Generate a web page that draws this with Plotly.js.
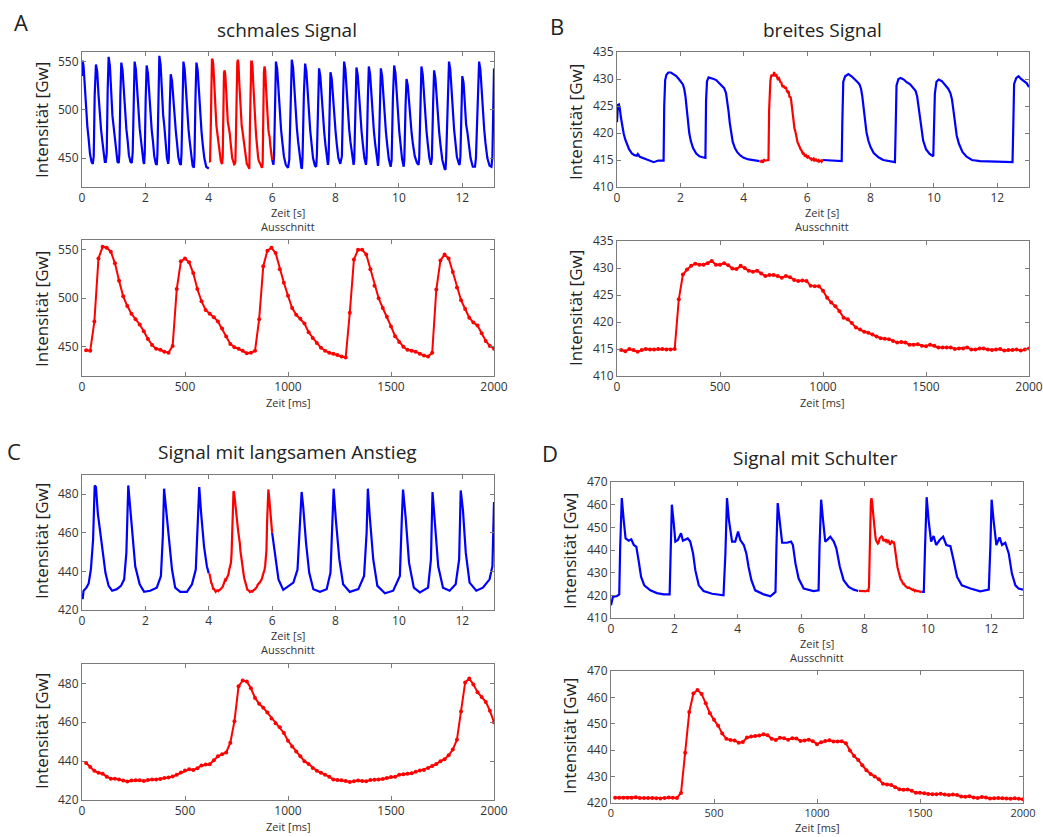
<!DOCTYPE html>
<html><head><meta charset="utf-8">
<script src="https://cdn.plot.ly/plotly-3.0.1.min.js"></script>
<style>html,body{margin:0;padding:0;background:#fff}#chart{width:1043px;height:837px}</style>
</head><body><div id="chart"></div>
<script>
// ---------- DATA ----------
// Detail ("Ausschnitt") sample times in ms (20 ms sampling)
const detailMs = Array.from({length:100}, (_, i) => 20 * (i + 1));

// Start of the cut-out window within the full recording (s)
const cutStartA = 4.0, cutStartB = 4.5, cutStartC = 4.0, cutStartD = 7.8;

// A: schmales Signal
const A_detail = [446.6,446,476,541,553,552,548,536,518,502,
 492,484,478.5,473,466,458,452,448,447,445,
 444,451,509.5,538,541,537,526,509.5,497,488,
 484,480.6,476,469,460.7,453,449.7,448,446,443.5,
 444,446,478.5,533,549,552,546.5,530,516,502.6,
 490,483,479,474,465,459,454,449,446,444,
 443,441.5,440,439,485,540,550,550,545,530,
 513,500,490,481,471,461,455,450,447,446,
 445,443,441,440,444,509,539,545,541,527,
 511,498,489,480,475,472,464,456,451,448];
const A_t1 = [0,0.02,0.05,0.09,0.13,0.17,0.21,0.25,0.30,0.34,0.37,0.40,0.44,0.48,0.52,0.56,0.60,0.64,0.68,0.72,
 0.75,0.78,0.81,0.84,0.88,0.92,0.96,1.00,1.04,1.08,1.12,1.16,1.18,1.21,1.24,1.28,1.32,1.36,1.40,1.44,
 1.48,1.53,1.57,1.60,1.63,1.66,1.70,1.74,1.78,1.82,1.86,1.90,1.94,1.96,1.98,2.01,2.04,2.08,2.12,2.16,
 2.20,2.24,2.28,2.33,2.36,2.38,2.41,2.44,2.48,2.52,2.56,2.60,2.64,2.68,2.72,2.74,2.77,2.80,2.84,2.88,
 2.92,2.96,3.00,3.04,3.09,3.12,3.14,3.17,3.20,3.24,3.28,3.32,3.36,3.40,3.44,3.49,3.53,3.55,3.58,3.61,
 3.65,3.69,3.73,3.77,3.81,3.86,3.92,4.00];
const A_v1 = [535,551,545,520,496,482,470,455,446,444,452,515,547,540,516,492,480,468,453,446,
 446,455,520,555,546,518,494,482,470,454,446,445,455,515,549,541,516,492,480,468,
 453,446,445,456,516,550,542,517,493,481,469,453,446,444,455,512,546,538,514,491,
 479,467,452,444,443,455,518,556,547,520,495,482,466,450,444,450,505,537,530,510,
 490,478,465,451,444,443,455,515,550,542,517,492,480,467,452,442,440,452,512,549,
 541,515,490,478,464,450,441,439];
const A_t2 = [6.00,6.04,6.06,6.09,6.12,6.16,6.20,6.24,6.28,6.32,6.37,6.43,6.50,6.54,6.58,6.62,6.66,6.70,6.74,6.78,
 6.82,6.87,6.92,6.94,6.96,7.00,7.04,7.08,7.12,7.16,7.20,7.24,7.29,7.35,7.39,7.41,7.45,7.48,7.52,7.56,
 7.60,7.64,7.68,7.73,7.76,7.78,7.81,7.84,7.88,7.92,7.96,8.00,8.04,8.09,8.15,8.20,8.24,8.27,8.31,8.35,
 8.39,8.43,8.47,8.52,8.57,8.59,8.63,8.66,8.70,8.74,8.78,8.82,8.86,8.91,8.96,8.98,9.02,9.05,9.09,9.13,
 9.17,9.21,9.25,9.30,9.34,9.36,9.40,9.43,9.47,9.51,9.55,9.59,9.63,9.68,9.74,9.77,9.81,9.85,9.89,9.93,
 9.97,10.01,10.05,10.10,10.15,10.17,10.21,10.24,10.28,10.32,10.36,10.40,10.44,10.50,10.57,10.62,10.64,10.68,10.71,10.75,
 10.79,10.83,10.87,10.91,10.96,11.01,11.04,11.08,11.11,11.15,11.19,11.23,11.27,11.31,11.37,11.44,11.47,11.49,11.54,11.58,
 11.62,11.66,11.70,11.74,11.78,11.83,11.90,11.92,11.94,11.97,12.00,12.04,12.08,12.12,12.16,12.20,12.26,12.33,12.40,12.43,
 12.49,12.53,12.57,12.61,12.65,12.69,12.73,12.79,12.86,12.92,12.95,13.00];
const A_v2 = [448,443,452,515,550,542,517,492,480,467,452,443,440,448,512,552,544,518,493,481,
 467,450,440,439,452,515,548,540,515,490,479,466,450,442,441,452,512,543,535,512,
 489,478,464,448,443,448,505,539,532,510,488,478,464,450,444,452,515,550,542,517,
 492,480,467,452,443,448,510,544,536,513,490,478,465,450,443,450,512,545,537,513,
 490,478,465,450,442,450,510,543,535,512,489,477,464,449,441,448,512,546,538,514,
 490,478,465,449,441,448,505,532,525,505,487,476,465,452,445,443,450,512,545,537,
 513,490,478,465,450,443,450,508,541,533,511,488,477,464,448,439,438,450,515,550,
 542,517,492,480,467,451,443,444,452,505,535,528,507,485,477,466,450,441,441,450,
 515,550,542,517,492,480,466,450,442,441,452,543];

// B: breites Signal
const B_detail = [414.8,414.6,415.0,414.8,414.5,414.8,415.0,414.9,414.9,415.0,415.0,414.9,414.9,415.0,
 424.2,428.8,429.7,430.4,430.8,430.6,430.6,430.9,431.3,430.6,430.6,430.9,430.5,429.9,429.8,430.4,
 430.0,429.5,429.3,429.5,429.0,428.5,428.7,428.7,428.5,428.2,428.5,428.3,427.8,427.6,427.7,427.6,426.7,426.6,426.6,425.8,
 424.5,423.6,422.9,422.0,420.8,420.5,419.8,419.0,418.6,418.2,418.0,417.7,417.3,417.0,416.9,416.8,416.5,416.2,416.3,416.2,
 415.8,415.8,415.9,415.6,415.5,415.8,415.6,415.3,415.3,415.3,415.3,415.0,415.1,415.1,415.3,414.9,414.9,415.1,415.1,414.9,
 414.8,414.9,415.0,414.7,414.8,414.8,414.9,414.7,414.9,415.1];
const B_t1 = [0,0.03,0.06,0.09,0.12,0.16,0.21,0.26,0.31,0.38,0.47,0.55,0.63,0.66,0.72,0.85,0.95,1.05,1.16,1.30,1.47,
 1.49,1.52,1.56,1.62,1.70,1.78,1.86,1.95,2.02,2.08,2.12,2.16,2.20,2.24,2.28,2.33,2.40,2.50,2.60,2.70,2.79,
 2.81,2.84,2.89,2.97,3.05,3.13,3.22,3.31,3.38,3.44,3.48,3.52,3.56,3.60,3.65,3.72,3.80,3.90,4.00,4.15,4.31,4.50];
const B_v1 = [422,425.2,425.3,424.5,423,421.2,419.9,418.8,418,417,416.2,415.9,415.8,416.1,415.6,415.3,415.0,414.9,414.6,414.9,414.9,
 425,429.8,430.8,431.2,431.2,430.9,430.6,430.0,429.5,429.0,428.2,426.8,424.5,422.0,420.0,418.5,417.2,416.2,415.7,415.5,415.4,
 426,429.6,430.3,430.2,430.0,429.8,429.3,428.8,428.3,427.4,426.0,424.0,421.8,420.0,418.4,417.2,416.4,415.8,415.4,415.1,415.0,414.8];
const B_t2 = [6.50,6.80,7.09,
 7.11,7.14,7.20,7.30,7.40,7.50,7.58,7.65,7.70,7.74,7.78,7.82,7.87,7.93,8.00,8.10,8.25,8.40,8.60,8.77,
 8.79,8.82,8.88,8.95,9.05,9.14,9.25,9.35,9.42,9.47,9.51,9.55,9.60,9.66,9.75,9.87,9.98,
 10.00,10.03,10.08,10.15,10.25,10.35,10.45,10.52,10.57,10.62,10.66,10.72,10.79,10.90,11.03,11.20,11.45,11.80,12.08,12.48,
 12.50,12.53,12.60,12.67,12.75,12.85,12.93,13.0];
const B_v2 = [415.0,414.9,414.8,
 422,429.5,430.5,430.9,430.5,430.0,429.5,429.0,428.2,426.8,424.5,422.3,420.2,418.6,417.4,416.3,415.5,415.0,414.8,414.6,
 420,428.8,430.0,430.2,429.9,429.4,429.0,428.4,427.8,426.8,425.0,422.8,420.5,418.6,417.0,416.1,415.7,
 420,427.3,429.5,429.9,429.6,428.8,428.2,427.4,426.2,424.0,421.7,419.5,418.0,416.5,415.6,415.0,414.8,414.7,414.6,414.6,
 420,429.1,430.2,430.5,430.0,429.6,429.2,428.5];

// C: Signal mit langsamen Anstieg
const C_detail = [439,437,435,434,433.5,432,431,431,430.5,430,
 429.5,430,430.2,430.2,429.8,430.3,430.5,430.5,430.8,431.3,
 431.6,432.1,433,434.2,435.2,435.8,435.5,436.3,437.8,438.3,
 438.4,440.5,442.5,443.5,444.5,449.5,460.5,478.5,481.5,481,
 477.5,472.5,469.5,467.5,465,462,459.5,457.5,454.5,450.5,
 447.5,445,442.5,440,438.5,436.5,435,434,433,432,
 430.5,430.3,430.2,429.8,429.3,429.6,430,429.8,429.6,430.3,
 430.4,430.5,430.8,431.3,431.8,432,433,433.3,433.5,433.8,
 434.5,435.2,435.5,436.5,437.5,438.5,440,441,443,446,
 451,465.5,480.5,482.5,479.5,475.5,473,470.5,466,460];
const C_t1 = [0.00,0.02,0.05,0.14,0.21,0.28,0.35,0.40,0.44,0.50,0.58,0.65,0.74,0.84,0.95,1.10,1.23,1.33,1.40,1.46,
 1.52,1.59,1.68,1.82,1.96,2.15,2.36,2.49,2.55,2.59,2.66,2.73,2.84,2.94,3.10,3.31,3.47,3.59,3.65,3.70,3.76,3.85,3.94,4.00];
const C_v1 = [428,425.6,430,431.6,433.8,441,456.4,484.6,483.8,470,459.8,449.6,439.3,432.5,430,430.8,432.5,435.9,449.6,484.6,
 473.5,459.8,442.7,433.3,429.4,430,431.6,437.6,458.1,482.9,471.8,458.1,441,431.6,429.4,429.4,433.3,441,463.2,483.8,470,453,442.7,439];
const C_t2 = [6.00,6.09,6.20,6.35,6.51,6.67,6.80,6.88,6.93,6.98,7.07,7.17,7.30,7.51,7.72,7.84,7.90,7.94,8.01,8.12,
 8.24,8.45,8.72,8.90,8.98,9.02,9.08,9.19,9.32,9.56,9.82,10.03,10.09,10.13,10.21,10.32,10.47,10.66,10.92,11.01,
 11.06,11.13,11.24,11.39,11.60,11.79,11.90,11.95,12.02,12.11,12.23,12.44,12.65,12.86,12.95,13.00];
const C_v2 = [460,447.9,435.9,430.4,432.5,434.2,441,463.2,481.2,473.5,454.7,439.3,430.8,429.4,430.8,439.3,463.2,482.9,466.7,446.2,
 433.3,429.4,430.8,437.6,459.8,482.9,468.4,446.2,432.5,428.7,430,437.6,466.7,482.4,468.4,444.4,431.6,429.1,431.6,446.2,
 481.2,466.7,442.7,431.6,430,433.3,446.2,482,471.8,449.6,434.2,430,431.6,435.9,442.7,476];

// D: Signal mit Schulter
const D_detail = [422.0,422.0,422.0,422.0,422.0,422.2,421.9,421.9,421.9,421.9,
 421.8,421.7,421.9,422.1,422.0,421.9,423.8,439,454.5,461.5,
 462.8,461.3,457.8,454,451.5,449.3,446.3,444.3,443.9,443.7,
 442.8,443.1,444.8,445.2,445.4,445.6,446.0,445.7,444.3,443.9,
 444.7,444.5,444.0,444.5,444.4,443.5,443.7,444.0,443.4,442.3,
 443.0,443.5,443.8,443.3,443.3,443.4,442.6,439.9,437.8,436.3,
 434.3,432.4,431.0,430.0,429.0,427.3,427.0,426.8,426.0,425.2,
 425.0,425.1,424.6,423.9,423.9,423.7,423.4,423.3,423.3,423.5,
 423.2,423.0,423.2,423.0,422.5,422.4,422.6,422.1,421.9,422.3,
 422.1,421.7,421.8,421.9,421.8,421.7,421.6,421.8,421.6,421.4];
const D_t1 = [0.00,0.02,0.06,0.19,0.26,0.29,0.34,0.40,0.46,0.56,0.64,0.72,0.80,0.87,0.95,1.05,1.24,1.45,1.66,1.85,
 1.88,1.92,1.98,2.03,2.11,2.21,2.27,2.35,2.42,2.50,2.59,2.66,2.77,2.92,3.19,3.55,3.61,3.66,3.72,3.82,
 3.92,4.01,4.08,4.19,4.27,4.34,4.43,4.55,4.82,5.03,5.19,5.22,5.26,5.32,5.40,5.55,5.68,5.74,5.82,5.92,
 6.08,6.39,6.55,6.58,6.63,6.69,6.76,6.84,6.92,7.03,7.11,7.22,7.34,7.50,7.66,7.80];
const D_v1 = [415.6,416.5,419.3,419.7,420.4,441.4,462.9,453.3,445.1,444.1,444.7,442.2,441.4,435.5,428.1,424.4,422.2,421,420.4,420.4,
 438.5,460,451.8,443.7,444.4,447.4,444.1,444.7,445.1,443.7,438.5,431.1,424.4,421.9,420.7,420,438.5,462.9,453.3,443.7,
 443.7,448.1,444.4,442.2,438.5,432.6,426.7,422.2,420.4,419.6,421.5,441.4,460.7,453.3,443.2,443.2,443.7,442.2,434.1,427.4,
 423,421.9,422.2,441.4,462.2,453.3,443.7,444.7,445.9,443.7,440.7,432.6,426.7,423.7,422.5,421.9];
const D_t2 = [9.80,9.87,9.91,9.96,10.02,10.10,10.18,10.26,10.37,10.48,10.58,10.71,10.81,10.92,11.07,11.34,11.65,11.92,11.97,12.01,
 12.07,12.16,12.26,12.34,12.44,12.55,12.65,12.76,12.86,13.00];
const D_v2 = [421.5,421.5,441.4,463.3,453.3,443.7,446.2,442.2,444.4,445.9,442.2,441.7,435.5,428.1,424.4,423,421.8,422.5,441.4,462.2,
 453.3,442.2,445.6,442.2,443.2,438.5,429.6,424.4,423,422.5];

// Tick labels
const secTicks = [0,2,4,6,8,10,12];
const msTicks = [0,500,1000,1500,2000];

// ---------- LAYOUT ----------
const W = 1043, H = 837;
const FONT = 'Open Sans, Noto Sans, sans-serif';
const BLUE = '#0000ff', RED = '#ff0000';

const panels = [
  {box:[82,494,52,187],  xr:[0,13],   yr:[420,560], xt:secTicks, yt:[450,500,550]},
  {box:[82,494,240,376], xr:[0,2000], yr:[420,560], xt:msTicks,  yt:[450,500,550]},
  {box:[617,1029,52,187],  xr:[0,13],   yr:[410,435], xt:secTicks, yt:[410,415,420,425,430,435]},
  {box:[617,1029,241,376], xr:[0,2000], yr:[410,435], xt:msTicks,  yt:[410,415,420,425,430,435]},
  {box:[82,494,475,610], xr:[0,13],   yr:[420,490], xt:secTicks, yt:[420,440,460,480]},
  {box:[82,494,664,800], xr:[0,2000], yr:[420,490], xt:msTicks,  yt:[420,440,460,480]},
  {box:[611,1023,482,618], xr:[0,13],   yr:[410,470], xt:secTicks, yt:[410,420,430,440,450,460,470]},
  {box:[611,1023,671,803], xr:[0,2000], yr:[420,470], xt:msTicks,  yt:[420,430,440,450,460,470], xfs:11}
];

const layout = {
  width: W, height: H, margin:{l:0,r:0,t:0,b:0},
  paper_bgcolor:'#ffffff', plot_bgcolor:'#ffffff',
  showlegend:false, font:{family:FONT, color:'#222'},
  annotations: []
};

panels.forEach((p, i) => {
  const n = i === 0 ? '' : String(i + 1);
  const [x0, x1, y0, y1] = p.box;
  const common = {
    ticks:'inside', ticklen:4, tickcolor:'#7a7a7a', tickwidth:1,
    showline:true, linecolor:'#7a7a7a', linewidth:1, mirror:'ticks',
    showgrid:false, zeroline:false, fixedrange:true,
    tickfont:{family:FONT, size:12, color:'#333'}
  };
  layout['xaxis' + n] = Object.assign({}, common, {
    domain:[x0 / W, x1 / W], range:p.xr, tickvals:p.xt, anchor:'y' + n,
    tickfont:{family:FONT, size:p.xfs || 12, color:'#333'}
  });
  layout['yaxis' + n] = Object.assign({}, common, {
    domain:[1 - y1 / H, 1 - y0 / H], range:p.yr, tickvals:p.yt, anchor:'x' + n
  });
});

function txt(text, x, y, size, opts) {
  layout.annotations.push(Object.assign({
    text, x: x / W, y: 1 - y / H, xref:'paper', yref:'paper',
    xanchor:'center', yanchor:'middle', showarrow:false,
    font:{family:FONT, size, color:'#222'}
  }, opts || {}));
}
// Titles and panel letters
txt('schmales Signal', 287, 30, 19);
txt('breites Signal', 822, 30, 19);
txt('Signal mit langsamen Anstieg', 287, 452, 19);
txt('Signal mit Schulter', 815, 458, 19);
txt('A', 21, 22, 22);
txt('B', 557, 26, 22);
txt('C', 14, 451, 22);
txt('D', 550, 453, 22);
// x-axis labels
const small = {font:{family:FONT, size:11, color:'#333'}};
[[288,212,226,402],[822,212,226,402],[288,635,649,826]].forEach(([cx, ys, ya, yms]) => {
  txt('Zeit [s]', cx, ys, 11, small);
  txt('Ausschnitt', cx, ya, 11, small);
  txt('Zeit [ms]', cx, yms, 11, small);
});
txt('Zeit [s]', 817, 643, 11, small);
txt('Ausschnitt', 817, 657, 11, small);
txt('Zeit [ms]', 817, 837, 11, Object.assign({yanchor:'bottom'}, small));
// y-axis labels
[[41,120],[41,309],[575,122],[575,308],[41,541],[41,731],[569,551],[569,736]].forEach(([x, y]) => {
  txt('Intensität [Gw]', x, y, 17, {textangle:-90});
});

// ---------- TRACES ----------
const traces = [];
function ov(n, t, v, color) {
  traces.push({x:t, y:v, type:'scatter', mode:'lines', line:{color, width:2.2},
    xaxis:'x' + n, yaxis:'y' + n, hoverinfo:'skip'});
}
function det(n, v) {
  traces.push({x:detailMs, y:v, type:'scatter', mode:'lines+markers',
    line:{color:RED, width:2}, marker:{color:RED, size:4},
    xaxis:'x' + n, yaxis:'y' + n, hoverinfo:'skip'});
}
const toSec = (start) => detailMs.map(ms => start + ms / 1000);

ov('', A_t1, A_v1, BLUE); ov('', A_t2, A_v2, BLUE); ov('', toSec(cutStartA), A_detail, RED); det('2', A_detail);
ov('3', B_t1, B_v1, BLUE); ov('3', B_t2, B_v2, BLUE); ov('3', toSec(cutStartB), B_detail, RED); det('4', B_detail);
ov('5', C_t1, C_v1, BLUE); ov('5', C_t2, C_v2, BLUE); ov('5', toSec(cutStartC), C_detail, RED); det('6', C_detail);
ov('7', D_t1, D_v1, BLUE); ov('7', D_t2, D_v2, BLUE); ov('7', toSec(cutStartD), D_detail, RED); det('8', D_detail);

Plotly.newPlot('chart', traces, layout, {displayModeBar:false, staticPlot:true});
</script>
</body></html>
